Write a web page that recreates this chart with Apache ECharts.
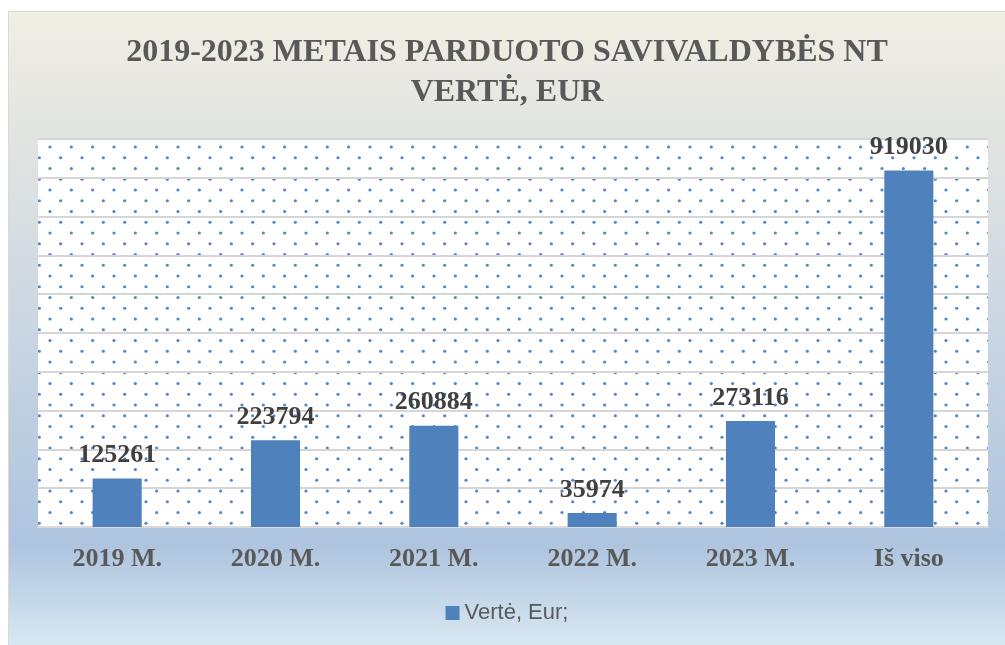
<!DOCTYPE html>
<html>
<head>
<meta charset="utf-8">
<script src="https://cdn.jsdelivr.net/npm/echarts@6/dist/echarts.min.js"></script>
<style>
  html, body { margin: 0; padding: 0; background: #ffffff; }
  #main {
    position: absolute; left: 8px; top: 11px;
    width: 996px; height: 634px;
    border-left: 1px solid #d9d9d9;
    border-top: 1px solid #d9d9d9;
  }
</style>
</head>
<body>
<div id="main"></div>
<script>
var categories = ['2019 M.', '2020 M.', '2021 M.', '2022 M.', '2023 M.', 'Iš viso'];
var values = [125261, 223794, 260884, 35974, 273116, 919030];
var seriesName = 'Vertė, Eur;';
var titleText = '2019-2023 METAIS PARDUOTO SAVIVALDYBĖS NT\nVERTĖ, EUR';

// dotted fill for the plot area
function dotTile() {
    var c = document.createElement('canvas');
    c.width = 64; c.height = 43;
    var ctx = c.getContext('2d');
    ctx.fillStyle = '#ffffff';
    ctx.fillRect(0, 0, 64, 43);
    ctx.fillStyle = '#5286c4';
    var dx = 64 / 3, dy = 43 / 4;
    for (var r = 0; r < 4; r++) {
        for (var k = 0; k < 3; k++) {
            var x = k * dx + (r % 2 ? 0 : dx / 2) + 9;
            var y = r * dy + 6;
            ctx.beginPath();
            ctx.arc(x % 64, y, 1.6, 0, Math.PI * 2);
            ctx.fill();
        }
    }
    return c;
}

var chart = echarts.init(document.getElementById('main'));
chart.setOption({
    backgroundColor: {
        type: 'linear', x: 0, y: 0, x2: 0, y2: 1,
        colorStops: [
            { offset: 0, color: '#f0efe4' },
            { offset: 0.2, color: '#e2e4e1' },
            { offset: 0.5, color: '#cad6e2' },
            { offset: 0.84, color: '#aec4df' },
            { offset: 1, color: '#d8e8f1' }
        ]
    },
    title: {
        text: titleText,
        left: 'center',
        top: 16,
        textStyle: {
            fontFamily: 'Liberation Serif',
            fontWeight: 'bold',
            fontSize: 32,
            lineHeight: 40,
            color: '#595959'
        }
    },
    legend: {
        data: [seriesName],
        bottom: 17,
        left: 'center',
        icon: 'rect',
        itemWidth: 14,
        itemHeight: 14,
        itemGap: 6,
        textStyle: {
            fontFamily: 'Liberation Sans',
            fontSize: 22,
            color: '#595959'
        }
    },
    grid: {
        left: 29, right: 17, top: 127, bottom: 119,
        show: true,
        borderWidth: 0,
        backgroundColor: { image: dotTile(), repeat: 'repeat' }
    },
    xAxis: {
        type: 'category',
        data: categories,
        axisTick: { show: false },
        axisLine: { lineStyle: { color: '#d9d9d9', width: 2 } },
        axisLabel: {
            margin: 19,
            fontFamily: 'Liberation Serif',
            fontWeight: 'bold',
            fontSize: 26,
            color: '#595959'
        }
    },
    yAxis: {
        type: 'value',
        min: 0, max: 1000000, interval: 100000,
        axisLabel: { show: false },
        axisLine: { show: false },
        axisTick: { show: false },
        splitLine: { lineStyle: { color: '#d6d6d6', width: 2 } }
    },
    series: [{
        name: seriesName,
        type: 'bar',
        data: values,
        barWidth: '31%',
        itemStyle: { color: '#4f81bd' },
        label: {
            show: true,
            position: 'top',
            distance: 10,
            fontFamily: 'Liberation Serif',
            fontWeight: 'bold',
            fontSize: 26,
            color: '#404040'
        }
    }]
});
</script>
</body>
</html>
